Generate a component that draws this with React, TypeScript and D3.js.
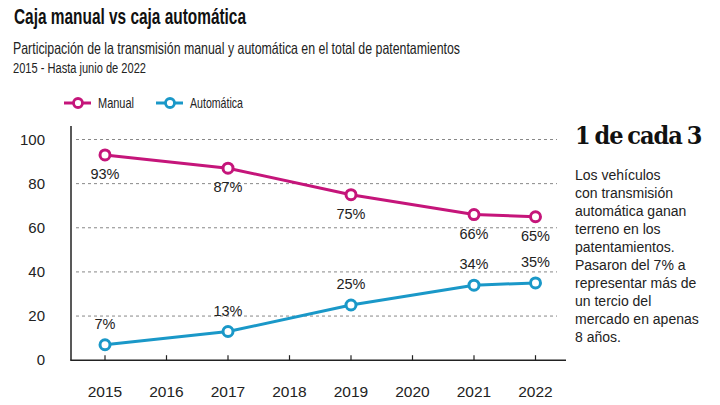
import React from "react";
import * as d3 from "d3";

const years = [2015, 2017, 2019, 2021, 2022];
const manual = [93, 87, 75, 66, 65];
const automatica = [7, 13, 25, 34, 35];
const xTickYears = [2015, 2016, 2017, 2018, 2019, 2020, 2021, 2022];
const yTicks = [0, 20, 40, 60, 80, 100];
const sideText = [
  "Los vehículos",
  "con transmisión",
  "automática ganan",
  "terreno en los",
  "patentamientos.",
  "Pasaron del 7% a",
  "representar más de",
  "un tercio del",
  "mercado en apenas",
  "8 años.",
];

const MAGENTA = "#c5157a";
const BLUE = "#1a98c8";
const FONT = "'Liberation Sans', Arial, sans-serif";

export default function App() {
  const x = d3.scaleLinear().domain([2015, 2022]).range([105, 535.5]);
  const y = d3.scaleLinear().domain([0, 100]).range([360.2, 139.5]);
  const line = d3
    .line<number>()
    .x((_, i) => x(years[i]))
    .y((d) => y(d));

  const series = [
    { name: "Manual", values: manual, color: MAGENTA, labelDy: 24 },
    { name: "Automática", values: automatica, color: BLUE, labelDy: -16 },
  ];

  return (
    <svg
      width={720}
      height={405}
      style={{ position: "absolute", left: 0, top: 0, background: "#fff" }}
      fontFamily={FONT}
    >
      <rect width={720} height={405} fill="#fff" />
      <text x={14} y={24} fontSize={22} fontWeight={700} fill="#111" textLength={232} lengthAdjust="spacingAndGlyphs">
        Caja manual vs caja automática
      </text>
      <text x={13} y={54} fontSize={16.5} fill="#222" textLength={447} lengthAdjust="spacingAndGlyphs">
        Participación de la transmisión manual y automática en el total de patentamientos
      </text>
      <text x={13} y={73} fontSize={14} fill="#222" textLength={133} lengthAdjust="spacingAndGlyphs">
        2015 - Hasta junio de 2022
      </text>

      {/* Legend */}
      {series.map((s, i) => {
        const lx = i === 0 ? 64 : 156;
        const tl = i === 0 ? 36 : 53;
        return (
          <g key={s.name}>
            <line x1={lx} x2={lx + 27} y1={103} y2={103} stroke={s.color} strokeWidth={3} />
            <circle cx={lx + 14} cy={103} r={4.5} fill="#fff" stroke={s.color} strokeWidth={2.8} />
            <text x={lx + 34} y={108} fontSize={14.5} fill="#222" textLength={tl} lengthAdjust="spacingAndGlyphs">
              {s.name}
            </text>
          </g>
        );
      })}

      {/* Grid */}
      {yTicks.filter((t) => t > 0).map((t) => (
        <line key={t} x1={76} x2={557} y1={y(t)} y2={y(t)} stroke="#888" strokeWidth={1} strokeDasharray="3,3" />
      ))}
      {yTicks.map((t) => (
        <text key={t} x={45} y={y(t) + 5} fontSize={15} fill="#222" textAnchor="end">
          {t}
        </text>
      ))}

      {/* Axes */}
      <line x1={71} x2={71} y1={126} y2={y(0)} stroke="#222" strokeWidth={1.5} />
      <line x1={70.25} x2={566} y1={y(0)} y2={y(0)} stroke="#222" strokeWidth={1.5} />
      {xTickYears.map((yr) => (
        <g key={yr}>
          <line x1={x(yr)} x2={x(yr)} y1={y(0) - 5} y2={y(0)} stroke="#222" strokeWidth={1.2} />
          <text x={x(yr)} y={397} fontSize={15.5} fill="#222" textAnchor="middle">
            {yr}
          </text>
        </g>
      ))}

      {/* Lines */}
      {series.map((s) => (
        <g key={s.name}>
          <path d={line(s.values) || ""} fill="none" stroke={s.color} strokeWidth={3} strokeLinejoin="round" />
          {s.values.map((v, i) => (
            <g key={i}>
              <circle cx={x(years[i])} cy={y(v)} r={5} fill="#fff" stroke={s.color} strokeWidth={3} />
              <text x={x(years[i])} y={y(v) + s.labelDy} fontSize={14.5} fill="#222" textAnchor="middle">
                {v}%
              </text>
            </g>
          ))}
        </g>
      ))}

      {/* Side note */}
      <text
        x={575}
        y={144}
        fontSize={25}
        fontWeight={700}
        fill="#111"
        fontFamily="'DejaVu Serif Condensed', 'DejaVu Serif', serif"
        letterSpacing={-1}
        wordSpacing={-2}
      >
        1 de cada 3
      </text>
      {sideText.map((t, i) => (
        <text key={i} x={575} y={180 + i * 18} fontSize={14} fill="#222">
          {t}
        </text>
      ))}
    </svg>
  );
}
